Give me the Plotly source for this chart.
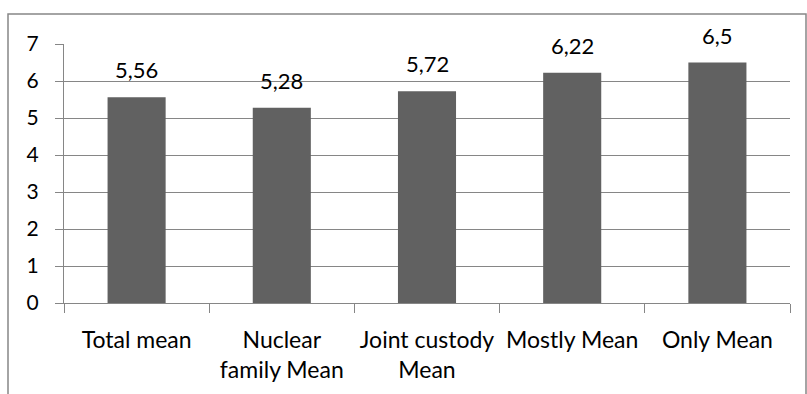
import plotly.graph_objects as go

categories = ["Total mean", "Nuclear<br>family Mean", "Joint custody<br>Mean", "Mostly Mean", "Only Mean"]
values = [5.56, 5.28, 5.72, 6.22, 6.5]
value_labels = ["5,56", "5,28", "5,72", "6,22", "6,5"]
y_ticks = [0, 1, 2, 3, 4, 5, 6, 7]

FONT = "Lato"
GRID = "#868686"

fig = go.Figure(
    go.Bar(
        x=categories,
        y=values,
        marker=dict(color="#616161", line=dict(width=0)),
        width=0.4,
    )
)

# value labels above each bar
for cat, val, lab in zip(categories, values, value_labels):
    fig.add_annotation(
        x=cat, y=val, text=lab, showarrow=False,
        xref="x", yref="y", yanchor="bottom", yshift=12,
        font=dict(family=FONT, size=22, color="#000000"),
    )

W, H = 807, 394
ml, mr, mt, mb = 64, 17, 44, 91
pw, ph = W - ml - mr, H - mt - mb

def px_x(v):
    return (v - ml) / pw

def px_y(v):
    return (H - mb - v) / ph

fig.update_layout(
    width=W,
    height=H,
    margin=dict(l=ml, r=mr, t=mt, b=mb, autoexpand=False),
    paper_bgcolor="white",
    plot_bgcolor="white",
    showlegend=False,
    font=dict(family=FONT, size=20, color="#000000"),
    shapes=[
        dict(
            type="rect", xref="paper", yref="paper",
            x0=px_x(8), x1=px_x(806), y0=px_y(420), y1=px_y(14),
            line=dict(color="#878787", width=1.5), fillcolor="rgba(0,0,0,0)",
            layer="below",
        )
    ],
)

fig.update_xaxes(
    type="category",
    showline=True, linecolor=GRID, linewidth=1,
    ticks="outside", tickson="boundaries", ticklen=9, tickcolor=GRID,
    showgrid=False,
    tickangle=0,
    automargin=False,
    ticklabelstandoff=16,
    tickfont=dict(family=FONT, size=23),
)
fig.update_yaxes(
    range=[0, 7],
    tickvals=y_ticks,
    showline=True, linecolor=GRID, linewidth=1,
    ticks="outside", ticklen=8, tickcolor=GRID,
    showgrid=True, gridcolor=GRID, gridwidth=1,
    zeroline=False,
    automargin=False,
    ticklabelstandoff=12,
    tickfont=dict(family=FONT, size=21),
)

fig.write_html("out.html")
